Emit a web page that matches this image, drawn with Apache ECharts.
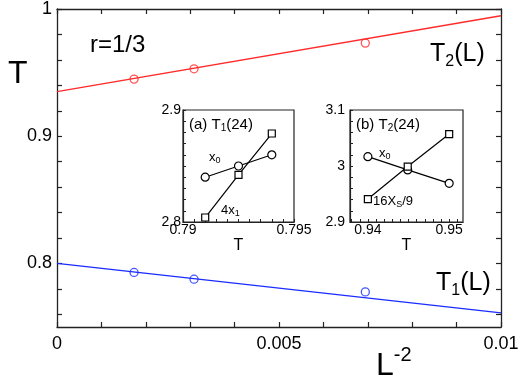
<!DOCTYPE html>
<html><head><meta charset="utf-8">
<script src="https://cdn.jsdelivr.net/npm/echarts@6/dist/echarts.min.js"></script>
<style>html,body{margin:0;padding:0;background:#fff}#c{width:523px;height:379px}</style>
</head><body><div id="c"></div>
<script>
// ---- main plot data ----
const mainX = [1/576, 1/324, 1/144];          // L^-2 for L = 24, 18, 12
const T2pts = [0.9449, 0.9530, 0.9732];
const T1pts = [0.7929, 0.7876, 0.7776];
const fitX  = [0, 0.01];
const T2fit = [0.935, 0.9947];
const T1fit = [0.800, 0.7611];
const mainXLabels = [0, 0.005, 0.01];
const mainYLabels = [0.8, 0.9, 1];
// ---- inset (a) T1(24) ----
const aT   = [0.791, 0.7925, 0.794];
const aX0  = [2.840, 2.850, 2.860];
const a4X1 = [2.804, 2.842, 2.879];
const aXLabels = [0.79, 0.795];
const aYLabels = [2.8, 2.9];
// ---- inset (b) T2(24) ----
const bT   = [0.94, 0.9449, 0.95];
const bX0  = [3.0167, 2.993, 2.969];
const bXs  = [2.941, 2.999, 3.057];
const bXLabels = [0.94, 0.95];
const bYLabels = [2.9, 3, 3.1];

const F = 'Liberation Sans, Arial, sans-serif';
const AX = '#222';
function range(a, b, s){const r=[];for(let v=a;v<=b+s/2;v+=s)r.push(+v.toFixed(6));return r;}
function pairs(xs, ys){return xs.map((x,i)=>[x,ys[i]]);}

const chart = echarts.init(document.getElementById('c'), null, {renderer:'canvas'});

function mainAxis(kind, pos, labels, ticks, min, max, showLabel){
  return {
    type:'value', gridIndex:0, position:pos, min:min, max:max,
    axisLine:{show:true, onZero:false, lineStyle:{color:AX, width:1.3}},
    axisTick:{show:true, inside:true, length:5, customValues:ticks, lineStyle:{color:AX, width:1.2}},
    axisLabel:{show:showLabel, customValues:labels, color:'#000', fontSize:18, fontFamily:F, margin:kind==='x'?8:5,
      showMinLabel:true, showMaxLabel:true},
    splitLine:{show:false}
  };
}
function insetAxis(kind, gi, labels, ticks, min, max, margin){
  return {
    type:'value', gridIndex:gi, min:min, max:max,
    axisLine:{show:true, onZero:false, lineStyle:{color:AX, width:1.2}},
    axisTick:{show:true, inside:true, length:3, customValues:ticks, lineStyle:{color:AX, width:1}},
    axisLabel:{show:true, customValues:labels, color:'#000', fontSize:14, fontFamily:F, margin:margin,
      showMinLabel:true, showMaxLabel:true},
    splitLine:{show:false},
    name: kind==='x' ? 'T' : '', nameLocation:'middle', nameGap:12,
    nameTextStyle:{color:'#000', fontSize:16, fontFamily:F}
  };
}

const option = {
  animation:false,
  backgroundColor:'#fff',
  grid:[
    {left:57, top:9, width:444, height:318, show:false},
    {left:183, top:110, width:111, height:112, show:true, backgroundColor:'#fff', borderColor:AX, borderWidth:1.2, z:3},
    {left:350, top:110, width:113, height:112, show:true, backgroundColor:'#fff', borderColor:AX, borderWidth:1.2, z:3}
  ],
  xAxis:[
    mainAxis('x','bottom', mainXLabels, range(0,0.01,0.001), 0, 0.01, true),
    mainAxis('x','top', mainXLabels, range(0,0.01,0.001), 0, 0.01, false),
    Object.assign(insetAxis('x',1, aXLabels, range(0.79,0.795,0.0005), 0.79, 0.795, 1),{z:4}),
    Object.assign(insetAxis('x',2, bXLabels, range(0.938,0.951,0.001), 0.9378, 0.9517, 1),{z:4})
  ],
  yAxis:[
    mainAxis('y','left', mainYLabels, range(0.76,1,0.02), 0.75, 1, true),
    mainAxis('y','right', mainYLabels, range(0.76,1,0.02), 0.75, 1, false),
    Object.assign(insetAxis('y',1, aYLabels, range(2.8,2.9,0.01), 2.8, 2.9, 2),{z:4}),
    Object.assign(insetAxis('y',2, bYLabels, range(2.9,3.1,0.02), 2.9, 3.1, 5),{z:4})
  ],
  series:[
    {type:'line', xAxisIndex:0, yAxisIndex:0, data:pairs(fitX,T2fit), symbol:'none', lineStyle:{color:'#ff2a2a', width:1.4}},
    {type:'line', xAxisIndex:0, yAxisIndex:0, data:pairs(fitX,T1fit), symbol:'none', lineStyle:{color:'#1a2cff', width:1.4}},
    {type:'scatter', xAxisIndex:0, yAxisIndex:0, data:pairs(mainX,T2pts), symbol:'circle', symbolSize:8,
      itemStyle:{color:'#fff', borderColor:'#ff2a2a', borderWidth:1.3}},
    {type:'scatter', xAxisIndex:0, yAxisIndex:0, data:pairs(mainX,T1pts), symbol:'circle', symbolSize:8,
      itemStyle:{color:'#fff', borderColor:'#1a2cff', borderWidth:1.3}},
    {type:'line', xAxisIndex:2, yAxisIndex:2, data:pairs(aT,aX0), symbol:'circle', symbolSize:8, z:5,
      lineStyle:{color:'#000', width:1.2}, itemStyle:{color:'#fff', borderColor:'#000', borderWidth:1.2}},
    {type:'line', xAxisIndex:2, yAxisIndex:2, data:pairs(aT,a4X1), symbol:'rect', symbolSize:7, z:5,
      lineStyle:{color:'#000', width:1.2}, itemStyle:{color:'#fff', borderColor:'#000', borderWidth:1.2}},
    {type:'line', xAxisIndex:3, yAxisIndex:3, data:pairs(bT,bX0), symbol:'circle', symbolSize:8, z:5,
      lineStyle:{color:'#000', width:1.2}, itemStyle:{color:'#fff', borderColor:'#000', borderWidth:1.2}},
    {type:'line', xAxisIndex:3, yAxisIndex:3, data:pairs(bT,bXs), symbol:'rect', symbolSize:7, z:5,
      lineStyle:{color:'#000', width:1.2}, itemStyle:{color:'#fff', borderColor:'#000', borderWidth:1.2}}
  ],
  graphic:[
    {type:'text', left:8, top:58, z:10, style:{text:'T', fontSize:32, fontFamily:F, fill:'#000'}},
    {type:'text', left:90, top:33, z:10, style:{text:'r=1/3', fontSize:24, fontFamily:F, fill:'#000'}},
    {type:'text', left:430, top:42, z:10, style:{text:'{m|T}{s|2}{m|(L)}', fontFamily:F, fill:'#000',
      rich:{m:{fontSize:25, lineHeight:30, fontFamily:F}, s:{fontSize:16, verticalAlign:'bottom', fontFamily:F}}}},
    {type:'text', left:436, top:271, z:10, style:{text:'{m|T}{s|1}{m|(L)}', fontFamily:F, fill:'#000',
      rich:{m:{fontSize:25, lineHeight:30, fontFamily:F}, s:{fontSize:16, verticalAlign:'bottom', fontFamily:F}}}},
    {type:'text', left:376, top:340, z:10, style:{text:'{m|L}{s|-2}', fontFamily:F, fill:'#000',
      rich:{m:{fontSize:32, lineHeight:32, fontFamily:F, padding:[10,0,0,0]}, s:{fontSize:20, lineHeight:20, verticalAlign:'top', fontFamily:F}}}},
    {type:'text', left:189, top:117, z:10, style:{text:'{m|(a) T}{s|1}{m|(24)}', fontFamily:F, fill:'#000',
      rich:{m:{fontSize:15, lineHeight:18, fontFamily:F}, s:{fontSize:10, verticalAlign:'bottom', fontFamily:F}}}},
    {type:'text', left:356, top:117, z:10, style:{text:'{m|(b) T}{s|2}{m|(24)}', fontFamily:F, fill:'#000',
      rich:{m:{fontSize:15, lineHeight:18, fontFamily:F}, s:{fontSize:10, verticalAlign:'bottom', fontFamily:F}}}},
    {type:'text', left:209, top:151, z:10, style:{text:'{m|x}{s|0}', fontFamily:F, fill:'#000',
      rich:{m:{fontSize:13, lineHeight:15, fontFamily:F}, s:{fontSize:9, verticalAlign:'bottom', fontFamily:F}}}},
    {type:'text', left:221, top:204, z:10, style:{text:'{m|4x}{s|1}', fontFamily:F, fill:'#000',
      rich:{m:{fontSize:13, lineHeight:15, fontFamily:F}, s:{fontSize:9, verticalAlign:'bottom', fontFamily:F}}}},
    {type:'text', left:379, top:147, z:10, style:{text:'{m|x}{s|0}', fontFamily:F, fill:'#000',
      rich:{m:{fontSize:13, lineHeight:15, fontFamily:F}, s:{fontSize:9, verticalAlign:'bottom', fontFamily:F}}}},
    {type:'text', left:373, top:195, z:10, style:{text:'{m|16X}{s|S}{m|/9}', fontFamily:F, fill:'#000',
      rich:{m:{fontSize:13, lineHeight:15, fontFamily:F}, s:{fontSize:9, verticalAlign:'bottom', fontFamily:F}}}}
  ]
};
chart.setOption(option);
</script></body></html>
